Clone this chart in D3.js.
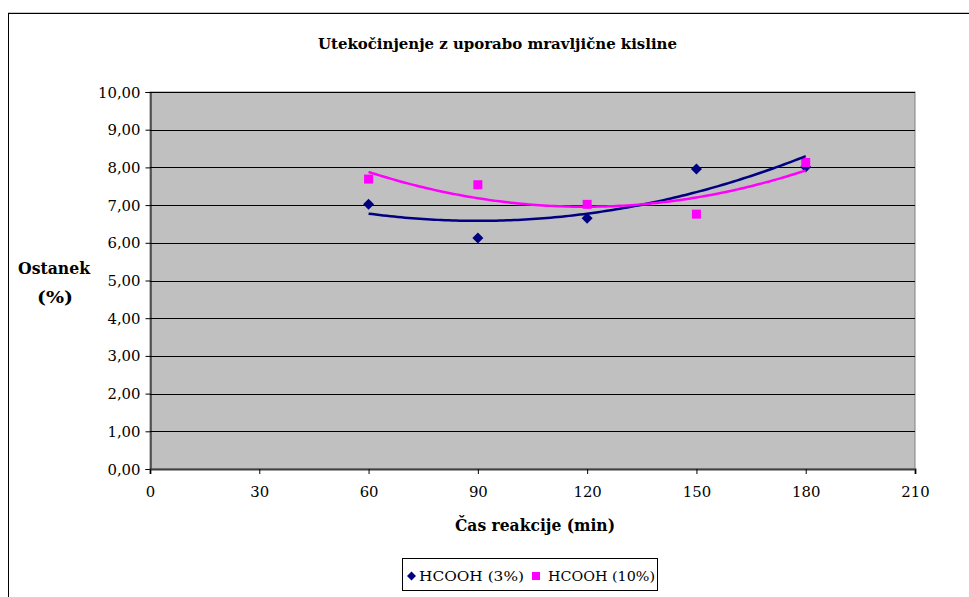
<!DOCTYPE html>
<html><head><meta charset="utf-8">
<script src="https://cdn.jsdelivr.net/npm/d3@7"></script>
<style>html,body{margin:0;padding:0;background:#fff;overflow:hidden}svg{display:block}
svg text{font-family:'DejaVu Serif','Liberation Serif','Times New Roman',serif !important}</style>
</head><body>
<svg id="c" width="969" height="597"></svg>
<script>
const titleText = "Utekočinjenje z uporabo mravljične kisline";
const xTitle = "Čas reakcije (min)";
const yTitleLines = ["Ostanek", "(%)"];
const times = [60, 90, 120, 150, 180];
const seriesNames = ["HCOOH (3%)", "HCOOH (10%)"];
const hcooh3 = [7.02, 6.13, 6.65, 7.96, 8.01];
const hcooh10 = [7.69, 7.54, 7.02, 6.76, 8.13];
const xTicks = [0, 30, 60, 90, 120, 150, 180, 210];
const yTicks = [0, 1, 2, 3, 4, 5, 6, 7, 8, 9, 10];
const colors = ["#000080", "#FF00FF"];

const svg = d3.select("#c");
const m = {l:150, r:915, t:92, b:469};
const x = d3.scaleLinear().domain([0,210]).range([m.l, m.r]);
const y = d3.scaleLinear().domain([0,10]).range([m.b, m.t]);
function fitWidth(sel) {
  sel.each(function(){
    const s = this.textContent; let u = 0;
    for (const ch of s) u += (ch === "," ? 0.25 : 0.5);
    this.setAttribute("textLength", u*18.9); this.setAttribute("lengthAdjust","spacingAndGlyphs");
  });
}

svg.append("rect").attr("x",8.5).attr("y",12.5).attr("width",970).attr("height",600).attr("fill","none").attr("stroke","#c8c8c8").attr("stroke-width",1);
svg.append("rect").attr("x",8.5).attr("y",13.5).attr("width",970).attr("height",600).attr("fill","none").attr("stroke","#000").attr("stroke-width",1);

svg.append("rect").attr("x",m.l).attr("y",m.t).attr("width",m.r-m.l).attr("height",m.b-m.t).attr("fill","#C0C0C0").attr("stroke","#808080").attr("stroke-width",1);

svg.append("g").selectAll("line").data(yTicks.filter(d=>d>0)).join("line")
  .attr("x1",m.l).attr("x2",m.r).attr("y1",d=>Math.round(y(d))+0.5).attr("y2",d=>Math.round(y(d))+0.5)
  .attr("stroke","#000").attr("stroke-width",1);

const ya = svg.append("g").attr("transform",`translate(${m.l+0.5},0)`)
  .call(d3.axisLeft(y).tickValues(yTicks).tickSize(5).tickPadding(5).tickFormat(d=>d3.format(".2f")(d).replace(".",",")));
ya.attr("font-family",null);
ya.select(".domain").attr("stroke","#000");
ya.selectAll(".tick line").attr("stroke","#000");
ya.selectAll("text").attr("font-size",14).attr("fill","#000").attr("dy","0.36em");
fitWidth(ya.selectAll("text"));

const xa = svg.append("g").attr("transform",`translate(0,${m.b})`)
  .call(d3.axisBottom(x).tickValues(xTicks).tickSize(5).tickPadding(13).tickFormat(d3.format("d")));
xa.attr("font-family",null);
xa.select(".domain").attr("stroke","#404040").attr("stroke-width",2);
xa.selectAll(".tick line").attr("stroke","#000");
xa.selectAll("text").attr("font-size",14).attr("fill","#000");
fitWidth(xa.selectAll("text"));

const pts3 = times.map((t,i)=>({t, v:hcooh3[i]}));
const pts10 = times.map((t,i)=>({t, v:hcooh10[i]}));
svg.append("g").selectAll("path").data(pts3).join("path")
  .attr("d", "M0,-5.5L5.5,0L0,5.5L-5.5,0Z")
  .attr("transform", d=>`translate(${x(d.t)},${y(d.v)})`).attr("fill",colors[0]);
svg.append("g").selectAll("rect").data(pts10).join("rect")
  .attr("x", d=>x(d.t)-4.5).attr("y", d=>y(d.v)-4.5).attr("width",9).attr("height",9).attr("fill",colors[1]);

function quadFit(xs, ys) {
  let S=[0,0,0,0,0], T=[0,0,0];
  xs.forEach((xv,i)=>{ for(let k=0;k<5;k++) S[k]+=Math.pow(xv,k); for(let k=0;k<3;k++) T[k]+=Math.pow(xv,k)*ys[i]; });
  const A=[[S[0],S[1],S[2],T[0]],[S[1],S[2],S[3],T[1]],[S[2],S[3],S[4],T[2]]];
  for(let i=0;i<3;i++){ for(let j=i+1;j<3;j++){ const f=A[j][i]/A[i][i]; for(let k=i;k<4;k++) A[j][k]-=f*A[i][k]; } }
  const c=[0,0,0];
  for(let i=2;i>=0;i--){ let s=A[i][3]; for(let k=i+1;k<3;k++) s-=A[i][k]*c[k]; c[i]=s/A[i][i]; }
  return xv=>c[0]+c[1]*xv+c[2]*xv*xv;
}
const f3 = quadFit(times, hcooh3), f10 = quadFit(times, hcooh10);
const xs = d3.range(times[0], times[times.length-1]+0.001, 1);
const line = d3.line().x(d=>x(d[0])).y(d=>y(d[1]));
svg.append("path").attr("d", line(xs.map(t=>[t,f3(t)]))).attr("fill","none").attr("stroke",colors[0]).attr("stroke-width",2.5);
svg.append("path").attr("d", line(xs.map(t=>[t,f10(t)]))).attr("fill","none").attr("stroke",colors[1]).attr("stroke-width",2.5);

svg.append("text").attr("x",497.5).attr("y",49).attr("text-anchor","middle").attr("font-size",15).attr("font-weight","bold")
  .attr("textLength",359).attr("lengthAdjust","spacingAndGlyphs").text(titleText);
svg.append("text").attr("x",535).attr("y",531).attr("text-anchor","middle").attr("font-size",16).attr("font-weight","bold")
  .attr("textLength",160).attr("lengthAdjust","spacingAndGlyphs").text(xTitle);
svg.append("text").attr("x",54).attr("y",274).attr("text-anchor","middle").attr("font-size",16).attr("font-weight","bold")
  .attr("textLength",72).attr("lengthAdjust","spacingAndGlyphs").text(yTitleLines[0]);
svg.append("text").attr("x",55).attr("y",303).attr("text-anchor","middle").attr("font-size",16).attr("font-weight","bold")
  .attr("textLength",36).attr("lengthAdjust","spacingAndGlyphs").text(yTitleLines[1]);

const lg = svg.append("g");
lg.append("rect").attr("x",402.5).attr("y",558.5).attr("width",255).attr("height",32).attr("fill","#fff").attr("stroke","#000").attr("stroke-width",1);
lg.append("path").attr("d","M0,-4.5L4.5,0L0,4.5L-4.5,0Z").attr("transform","translate(411.5,576)").attr("fill",colors[0]);
lg.append("text").attr("x",419).attr("y",581).attr("font-size",13).attr("textLength",105).attr("lengthAdjust","spacingAndGlyphs").text(seriesNames[0]);
lg.append("rect").attr("x",532).attr("y",572).attr("width",8).attr("height",8).attr("fill",colors[1]);
lg.append("text").attr("x",548).attr("y",581).attr("font-size",13).attr("textLength",107).attr("lengthAdjust","spacingAndGlyphs").text(seriesNames[1]);
</script>
</body></html>
